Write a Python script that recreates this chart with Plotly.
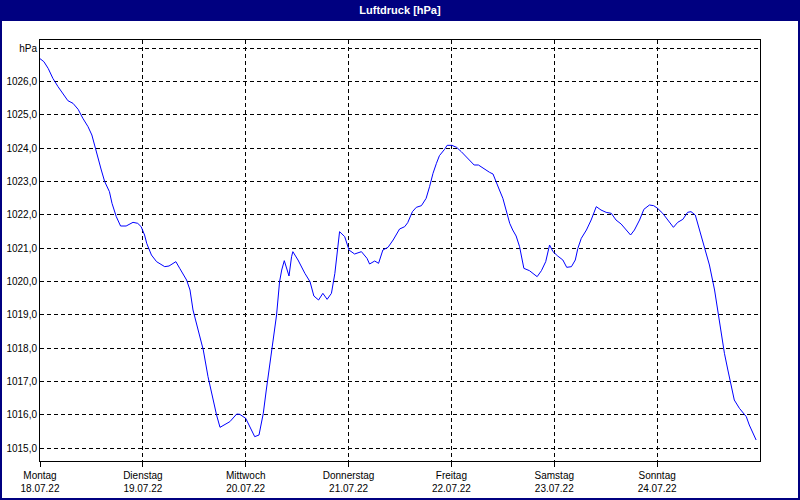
import datetime as dt
import plotly.graph_objects as go

# ---- data -------------------------------------------------------------
start = "2022-07-18 00:00"
hours = [0.0, 0.9, 1.9, 3.0, 4.2, 5.8, 6.5, 7.7, 8.9, 10.0, 11.2, 12.1, 12.7, 13.5, 14.3,
         15.1, 16.2, 16.8, 17.8, 18.8, 20.1, 21.7, 22.8, 23.6, 24.4, 24.9, 26.0, 27.2,
         29.1, 30.1, 31.7, 32.6, 34.2, 35.0, 35.7, 36.9, 38.1, 39.2, 40.4, 41.2, 42.0,
         43.1, 44.3, 45.9, 46.6, 48.0, 49.0, 50.1, 51.1, 51.7, 52.1, 52.8, 53.6, 54.4,
         55.2, 55.9, 56.4, 57.0, 57.5, 58.1, 58.7, 59.0, 60.2, 61.8, 63.0, 63.9, 65.0,
         66.0, 67.0, 68.0, 68.8, 69.3, 69.9, 71.1, 72.1, 73.4, 75.0, 76.3, 76.9, 78.1,
         79.0, 80.0, 81.2, 82.4, 83.9, 85.1, 85.8, 86.9, 87.8, 89.0, 90.1, 90.9, 91.7,
         92.5, 93.2, 94.4, 95.0, 96.1, 97.2, 98.3, 99.8, 101.3, 102.3, 103.7, 104.9,
         105.7, 106.5, 107.2, 108.0, 108.8, 109.6, 110.3, 111.1, 111.9, 112.4, 112.9,
         114.2, 115.2, 116.0, 117.0, 118.0, 118.9, 119.7, 120.8, 122.0, 122.9, 124.0,
         124.9, 125.5, 126.3, 127.5, 128.6, 129.8, 130.9, 132.1, 133.3, 134.4, 135.6,
         136.8, 137.8, 138.7, 139.9, 140.9, 142.2, 143.2, 144.1, 145.3, 146.5, 147.8,
         148.8, 150.0, 151.1, 151.9, 152.9, 153.9, 155.0, 156.2, 157.4, 158.1, 158.9,
         159.7, 160.5, 161.3, 162.0, 163.2, 164.8, 165.5, 166.3, 167.1]
pressure = [1026.68, 1026.59, 1026.39, 1026.09, 1025.84, 1025.54, 1025.42, 1025.34, 1025.16,
            1024.89, 1024.64, 1024.39, 1024.09, 1023.74, 1023.34, 1022.99, 1022.69, 1022.34,
            1021.94, 1021.66, 1021.66, 1021.77, 1021.74, 1021.64, 1021.39, 1021.14, 1020.79,
            1020.59, 1020.44, 1020.46, 1020.59, 1020.39, 1020.04, 1019.74, 1019.14, 1018.54,
            1017.94, 1017.14, 1016.44, 1015.99, 1015.62, 1015.69, 1015.79, 1016.02, 1016.01,
            1015.89, 1015.64, 1015.34, 1015.39, 1015.74, 1016.04, 1016.74, 1017.44, 1018.14,
            1018.99, 1019.99, 1020.34, 1020.62, 1020.44, 1020.16, 1020.74, 1020.89, 1020.64,
            1020.24, 1019.99, 1019.56, 1019.44, 1019.64, 1019.46, 1019.64, 1020.24, 1020.84,
            1021.49, 1021.34, 1020.94, 1020.82, 1020.89, 1020.69, 1020.52, 1020.61, 1020.54,
            1020.94, 1021.02, 1021.24, 1021.57, 1021.64, 1021.76, 1022.09, 1022.22, 1022.27,
            1022.49, 1022.84, 1023.24, 1023.54, 1023.77, 1023.96, 1024.08, 1024.08, 1024.02,
            1023.89, 1023.69, 1023.49, 1023.49, 1023.36, 1023.27, 1023.22, 1022.99, 1022.74,
            1022.49, 1022.09, 1021.74, 1021.54, 1021.36, 1021.04, 1020.69, 1020.39, 1020.32,
            1020.22, 1020.14, 1020.32, 1020.59, 1021.09, 1020.89, 1020.76, 1020.64, 1020.42,
            1020.44, 1020.64, 1020.99, 1021.29, 1021.54, 1021.84, 1022.24, 1022.14, 1022.07,
            1022.04, 1021.84, 1021.72, 1021.54, 1021.39, 1021.54, 1021.84, 1022.16, 1022.29,
            1022.27, 1022.19, 1022.04, 1021.82, 1021.62, 1021.77, 1021.86, 1022.07, 1022.09,
            1021.99, 1021.54, 1020.99, 1020.49, 1019.74, 1019.14, 1018.44, 1017.84, 1017.34,
            1016.84, 1016.44, 1016.19, 1015.94, 1015.69, 1015.44, 1015.24]
day_dates = ["2022-07-18", "2022-07-19", "2022-07-20", "2022-07-21",
             "2022-07-22", "2022-07-23", "2022-07-24"]
day_names = ["Montag", "Dienstag", "Mittwoch", "Donnerstag", "Freitag", "Samstag", "Sonntag"]
day_labels = ["18.07.22", "19.07.22", "20.07.22", "21.07.22", "22.07.22", "23.07.22", "24.07.22"]
y_ticks = [1015, 1016, 1017, 1018, 1019, 1020, 1021, 1022, 1023, 1024, 1025, 1026, 1027]
y_ticktext = ["1015,0", "1016,0", "1017,0", "1018,0", "1019,0", "1020,0", "1021,0",
              "1022,0", "1023,0", "1024,0", "1025,0", "1026,0", "hPa"]
title_text = "Luftdruck [hPa]"

# ---- figure -----------------------------------------------------------
t0 = dt.datetime.strptime(start, "%Y-%m-%d %H:%M")
times = [t0 + dt.timedelta(hours=h) for h in hours]

W, H = 800, 500
L, R, T, B = 40, 40, 40, 39
pw, ph = W - L - R, H - T - B
NAVY = "#000080"
FONT = "Liberation Sans, Arial, sans-serif"


def px(x):
    return (x - L) / pw


def py(y):
    return (H - B - y) / ph


fig = go.Figure()
fig.add_trace(go.Scatter(x=times, y=pressure, mode="lines",
                         line=dict(color="#0000FF", width=1), hoverinfo="x+y",
                         showlegend=False))

fig.update_layout(
    width=W, height=H,
    margin=dict(l=L, r=R, t=T, b=B, pad=0, autoexpand=False),
    paper_bgcolor=NAVY,
    plot_bgcolor="white",
    font=dict(family=FONT, size=10, color="black"),
    title=dict(text="<b>" + title_text + "</b>", x=0.5, xanchor="center",
               y=1 - 10 / H, yanchor="middle", yref="container",
               font=dict(family=FONT, size=11, color="white")),
    shapes=[dict(type="rect", xref="paper", yref="paper", layer="below",
                 x0=px(2), x1=px(798), y0=py(498), y1=py(21),
                 fillcolor="white", line=dict(width=0))],
)

fig.update_xaxes(
    type="date", automargin=False,
    range=[start, "2022-07-25 00:00"],
    tickvals=day_dates,
    ticktext=[f"{n}<br>{d}" for n, d in zip(day_names, day_labels)],
    ticks="outside", ticklen=5, tickcolor="black", tickwidth=1,
    ticklabelstandoff=0,
    showgrid=True, gridcolor="black", gridwidth=1, griddash="4px,3px",
    showline=True, linecolor="black", linewidth=1, mirror=True,
    zeroline=False, tickfont=dict(size=10, family=FONT),
)
fig.update_yaxes(
    automargin=False,
    range=[1014.61, 1027.24],
    tickvals=y_ticks, ticktext=y_ticktext,
    ticks="", showgrid=True, gridcolor="black", gridwidth=1, griddash="4px,3px",
    showline=True, linecolor="black", linewidth=1, mirror=True,
    zeroline=False, tickfont=dict(size=10, family=FONT),
)

fig.write_html(
    "out.html",
    config={"displayModeBar": False},
    post_script="document.body.style.margin='0';document.body.style.overflow='hidden';",
)
